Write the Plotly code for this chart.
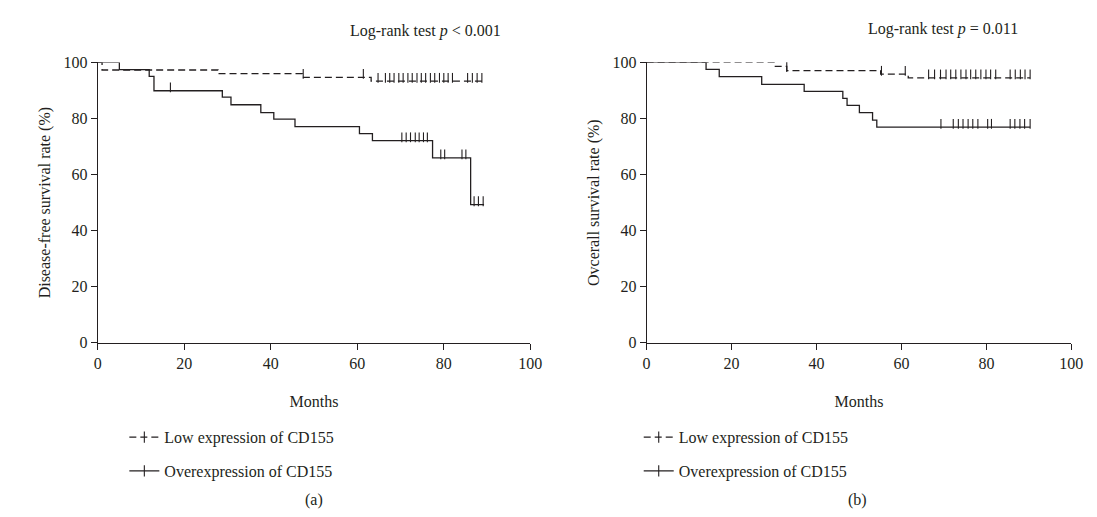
import numpy as np
import plotly.graph_objects as go

# ---------------- data ----------------
# (a) Disease-free survival
a_low_t = [0, 1, 27.8, 47.3, 63.2]
a_low_s = [100, 97.3, 96.0, 94.7, 93.3]
a_low_end = 89.2
a_low_cens = [47.5, 61.4, 64.8, 66.5, 67.5, 68.5, 69.6, 70.6, 71.7, 72.7, 73.8, 74.8,
              75.8, 76.9, 77.9, 79.0, 80.0, 81.0, 82.0, 85.5, 86.6, 87.7, 88.8]

a_over_t = [0, 5, 11.9, 13, 28.8, 30.8, 37.7, 40.7, 45.6, 60.5, 63.5, 77.4, 86.2]
a_over_s = [100, 97.4, 95.0, 89.9, 87.6, 84.9, 82.1, 79.8, 77.1, 74.6, 72.1, 66.0, 49.3]
a_over_end = 89.3
a_over_cens = [16.8, 70.3, 71.3, 72.3, 73.4, 74.3, 75.3, 76.2, 79.3, 80.2, 84.2, 85.1, 87.0, 88.0, 89.1]

# (b) Overall survival
b_low_t = [0, 30, 33, 55.1, 61.6]
b_low_s = [100, 98.6, 97.1, 95.8, 94.5]
b_low_end = 90.3
b_low_cens = [3.0, 33.0, 55.3, 60.9, 66.4, 67.8, 69.2, 70.5, 71.6, 72.8, 74.0, 75.2, 76.3, 77.5,
              78.7, 79.9, 81.0, 82.2, 85.6, 86.8, 88.0, 89.1, 90.3]

b_over_t = [0, 14.0, 17.1, 27.1, 37.1, 46.2, 47.2, 50.1, 53.2, 54.2]
b_over_s = [100, 97.5, 94.9, 92.2, 89.7, 87.2, 84.7, 82.1, 79.4, 76.9]
b_over_end = 90.3
b_over_cens = [69.3, 72.2, 73.4, 74.5, 75.7, 76.8, 78.0, 80.3, 81.2, 85.6, 86.7, 87.9, 89.0, 90.3]

x_ticks = [0, 20, 40, 60, 80, 100]
y_ticks = [0, 20, 40, 60, 80, 100]

names = ["Low expression of CD155", "Overexpression of CD155"]
panel_titles = ["Disease-free survival rate (%)", "Ovcerall survival rate (%)"]
logrank = ["Log-rank test <i>p</i> < 0.001", "Log-rank test <i>p</i> = 0.011"]
panel_labels = ["(a)", "(b)"]

# ---------------- layout geometry ----------------
W, H = 1097, 517
FONT = "Liberation Serif"
INK = "#231f20"
x_dom = [[87 / W, 526 / W], [644 / W, 1075 / W]]
y_dom = [1 - 338 / H, 1 - 48 / H]
plot_h_px = 338 - 48
tick_px = 7.0
cens_off = tick_px / (plot_h_px / 100.0)

fig = go.Figure()


def step_xy(t, s, end):
    xs = list(t) + [end]
    ys = list(s) + [s[-1]]
    return xs, ys


def add_group(t, s, end, cens, dash, axis_idx, name, legend_name):
    xa = "x" if axis_idx == 0 else "x2"
    ya = "y" if axis_idx == 0 else "y2"
    xs, ys = step_xy(t, s, end)
    fig.add_trace(go.Scatter(x=xs, y=ys, mode="lines", line=dict(color=INK, width=1.3, dash=dash, shape="hv"),
                             xaxis=xa, yaxis=ya, showlegend=False, cliponaxis=False, hoverinfo="skip"))
    t_arr = np.array(t, dtype=float)
    s_arr = np.array(s, dtype=float)
    cens_arr = np.array(cens, dtype=float)
    idx = np.searchsorted(t_arr, cens_arr, side="right") - 1
    cy = s_arr[idx] + cens_off / 2.0
    fig.add_trace(go.Scatter(x=cens_arr, y=cy, mode="markers",
                             marker=dict(symbol="line-ns", size=tick_px,
                                         line=dict(color=INK, width=1.1)),
                             xaxis=xa, yaxis=ya, showlegend=False, cliponaxis=False, hoverinfo="skip"))
    # legend entry
    fig.add_trace(go.Scatter(x=[None], y=[None], mode="lines+markers", name=name,
                             line=dict(color=INK, width=1.3, dash=dash),
                             marker=dict(symbol="line-ns", size=8, line=dict(color=INK, width=1.1)),
                             xaxis=xa, yaxis=ya, legend=legend_name, legendgroup=legend_name + name,
                             showlegend=True))


DASH = "7px,4px"
add_group(a_low_t, a_low_s, a_low_end, a_low_cens, DASH, 0, names[0], "legend")
add_group(a_over_t, a_over_s, a_over_end, a_over_cens, "solid", 0, names[1], "legend")
add_group(b_low_t, b_low_s, b_low_end, b_low_cens, DASH, 1, names[0], "legend2")
add_group(b_over_t, b_over_s, b_over_end, b_over_cens, "solid", 1, names[1], "legend2")

axis_common = dict(showgrid=False, zeroline=False, showline=True, linecolor=INK, linewidth=1,
                   ticks="outside", ticklen=6, tickcolor=INK, tickwidth=1,
                   tickfont=dict(family=FONT, size=16, color=INK))

xaxis_common = dict(axis_common, range=[0, 100], tickvals=x_ticks, ticktext=[str(v) for v in x_ticks],
                    title=dict(text="Months", font=dict(family=FONT, size=16, color=INK), standoff=24))

fig.update_layout(
    width=W, height=H,
    margin=dict(l=0, r=0, t=0, b=0),
    paper_bgcolor="white", plot_bgcolor="white",
    font=dict(family=FONT, color=INK),
    xaxis=dict(xaxis_common, domain=x_dom[0], anchor="y"),
    xaxis2=dict(xaxis_common, domain=x_dom[1], anchor="y2"),
    yaxis=dict(axis_common, domain=y_dom, range=[0, 100], tickvals=y_ticks, anchor="x",
               title=dict(text=panel_titles[0], font=dict(family=FONT, size=16, color=INK), standoff=8)),
    yaxis2=dict(axis_common, domain=y_dom, range=[0, 100], tickvals=y_ticks, anchor="x2",
                title=dict(text=panel_titles[1], font=dict(family=FONT, size=16, color=INK), standoff=8)),
    legend=dict(x=114 / W, y=1 - 418 / H, xanchor="left", yanchor="top", bgcolor="rgba(0,0,0,0)",
                font=dict(family=FONT, size=16, color=INK), tracegroupgap=10, itemwidth=30,
                traceorder="grouped"),
    legend2=dict(x=636 / W, y=1 - 418 / H, xanchor="left", yanchor="top", bgcolor="rgba(0,0,0,0)",
                 font=dict(family=FONT, size=16, color=INK), tracegroupgap=10, itemwidth=30,
                 traceorder="grouped"),
    showlegend=True,
)

annos = [
    dict(text=logrank[0], x=420 / W, y=1 - 16 / H),
    dict(text=logrank[1], x=945 / W, y=1 - 13 / H),
    dict(text=panel_labels[0], x=306 / W, y=1 - 500 / H),
    dict(text=panel_labels[1], x=858 / W, y=1 - 500 / H),
]
for a in annos:
    fig.add_annotation(xref="paper", yref="paper", xanchor="center", yanchor="middle", showarrow=False,
                       font=dict(family=FONT, size=16, color=INK), **a)

fig.write_html("out.html")
